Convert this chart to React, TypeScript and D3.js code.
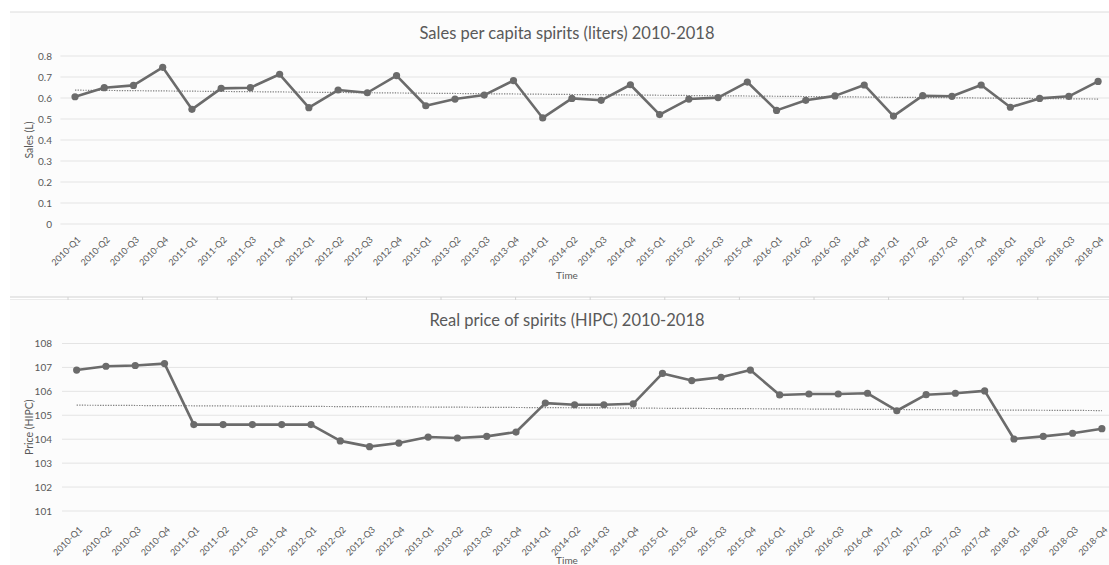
import React from "react";
import * as d3 from "d3";

const quarters: string[] = [];
const years = [2010, 2011, 2012, 2013, 2014, 2015, 2016, 2017, 2018];
years.forEach((y) => ["Q1", "Q2", "Q3", "Q4"].forEach((q) => quarters.push(`${y}-${q}`)));

const salesValues = [
  0.606, 0.649, 0.66, 0.746,
  0.546, 0.646, 0.649, 0.713,
  0.554, 0.638, 0.625, 0.707,
  0.563, 0.595, 0.614, 0.683,
  0.505, 0.598, 0.589, 0.663,
  0.521, 0.595, 0.602, 0.676,
  0.541, 0.589, 0.61, 0.662,
  0.514, 0.611, 0.608, 0.662,
  0.556, 0.598, 0.608, 0.679,
];

const priceValues = [
  106.89, 107.05, 107.08, 107.16,
  104.61, 104.61, 104.61, 104.61,
  104.61, 103.93, 103.69, 103.84,
  104.09, 104.05, 104.12, 104.3,
  105.51, 105.44, 105.44, 105.48,
  106.75, 106.45, 106.59, 106.89,
  105.85, 105.89, 105.89, 105.92,
  105.19, 105.86, 105.92, 106.02,
  104.01, 104.12, 104.25, 104.44,
];

const salesTicks = [0, 0.1, 0.2, 0.3, 0.4, 0.5, 0.6, 0.7, 0.8];
const priceTicks = [101, 102, 103, 104, 105, 106, 107, 108];

const FONT = "Lato, 'Open Sans', sans-serif";
const TXT = "#595959";

type PanelProps = {
  title: string;
  yTitle: string;
  values: number[];
  ticks: number[];
  yDomain: [number, number];
  top: number;
  bottom: number;
  xStart: number;
  xEnd: number;
  titleY: number;
  labelGap: number;
  timeY: number;
  fmt: (v: number) => string;
};

function regression(values: number[]) {
  const n = values.length;
  const xs = values.map((_, i) => i);
  const mx = d3.mean(xs) as number;
  const my = d3.mean(values) as number;
  let num = 0;
  let den = 0;
  xs.forEach((x, i) => {
    num += (x - mx) * (values[i] - my);
    den += (x - mx) * (x - mx);
  });
  const slope = num / den;
  const icpt = my - slope * mx;
  return [icpt, icpt + slope * (n - 1)];
}

function Panel(p: PanelProps) {
  const x = d3.scaleBand<string>().domain(quarters).range([p.xStart, p.xEnd]).padding(0);
  const bw = x.bandwidth();
  const cx = (q: string) => (x(q) as number) + bw / 2;
  const y = d3.scaleLinear().domain(p.yDomain).range([p.bottom, p.top]);
  const line = d3
    .line<number>()
    .x((_, i) => cx(quarters[i]))
    .y((v) => y(v));
  const [t0, t1] = regression(p.values);
  const midY = (p.top + p.bottom) / 2;
  return (
    <g>
      <text x={567} y={p.titleY} textAnchor="middle" fontSize={16.5} fill={TXT} fontFamily={FONT}>
        {p.title}
      </text>
      {p.ticks.map((t) => (
        <g key={t}>
          <line x1={p.xStart} x2={1109} y1={y(t)} y2={y(t)} stroke="#e4e4e4" strokeWidth={1} />
          <text x={52} y={y(t)} dy="0.35em" textAnchor="end" fontSize={10} fill={TXT} fontFamily={FONT}>
            {p.fmt(t)}
          </text>
        </g>
      ))}
      <text
        transform={`translate(29,${midY}) rotate(-90)`}
        textAnchor="middle"
        dy="0.35em"
        fontSize={10.5}
        fill={TXT}
        fontFamily={FONT}
      >
        {p.yTitle}
      </text>
      {quarters.map((q) => (
        <text
          key={q}
          transform={`translate(${cx(q) + 4},${p.bottom + p.labelGap}) rotate(-45)`}
          textAnchor="end"
          dy="0.35em"
          fontSize={9}
          fill={TXT}
          fontFamily={FONT}
        >
          {q}
        </text>
      ))}
      <text x={567} y={p.timeY} textAnchor="middle" fontSize={10} fill={TXT} fontFamily={FONT}>
        Time
      </text>
      <line
        x1={cx(quarters[0])}
        x2={cx(quarters[quarters.length - 1])}
        y1={y(t0)}
        y2={y(t1)}
        stroke="#7f7f7f"
        strokeWidth={1.2}
        strokeDasharray="1.3 1.3"
      />
      <path d={line(p.values) as string} fill="none" stroke="#6b6b6b" strokeWidth={2.6} strokeLinejoin="round" />
      {p.values.map((v, i) => (
        <circle key={i} cx={cx(quarters[i])} cy={y(v)} r={3.6} fill="#6b6b6b" />
      ))}
    </g>
  );
}

export default function App() {
  const sepTicks = d3.range(68, 1109, 74.6);
  return (
    <svg
      width={1109}
      height={565}
      style={{ position: "absolute", left: 0, top: 0, background: "#fff" }}
    >
      <rect x={10} y={12} width={1099} height={285} fill="#fcfcfc" />
      <rect x={10} y={299} width={1099} height={266} fill="#fcfcfc" />
      <line x1={10} x2={1109} y1={12} y2={12} stroke="#dcdcdc" strokeWidth={1} />
      <line x1={10} x2={1109} y1={297} y2={297} stroke="#d2d2d2" strokeWidth={1} />
      <line x1={10} x2={1109} y1={299.5} y2={299.5} stroke="#ebebeb" strokeWidth={1} />
      {sepTicks.map((t) => (
        <line key={t} x1={t} x2={t} y1={297} y2={300} stroke="#d2d2d2" strokeWidth={1} />
      ))}
      <Panel
        title="Sales per capita spirits (liters) 2010-2018"
        yTitle="Sales (L)"
        values={salesValues}
        ticks={salesTicks}
        yDomain={[0, 0.8]}
        top={56}
        bottom={224}
        xStart={60.4}
        xEnd={1112.7}
        titleY={39}
        labelGap={14}
        timeY={279}
        fmt={(v) => (v === 0 ? "0" : d3.format(".1f")(v))}
      />
      <Panel
        title="Real price of spirits (HIPC) 2010-2018"
        yTitle="Price (HIPC)"
        values={priceValues}
        ticks={priceTicks}
        yDomain={[101, 108]}
        top={343.5}
        bottom={511}
        xStart={62}
        xEnd={1116.5}
        titleY={326}
        labelGap={17}
        timeY={564}
        fmt={(v) => String(v)}
      />
    </svg>
  );
}
